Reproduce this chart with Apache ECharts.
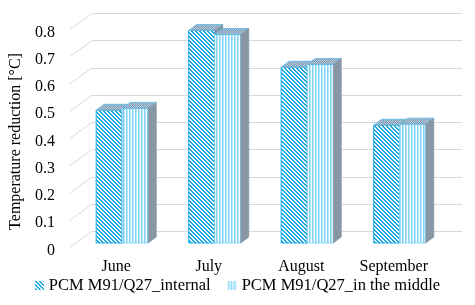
<!DOCTYPE html>
<html><head><meta charset="utf-8">
<script src="https://cdn.jsdelivr.net/npm/echarts@6/dist/echarts.min.js"></script>
<style>html,body{margin:0;padding:0;background:#fff}#c{width:475px;height:305px}</style>
</head><body><div id="c"></div>
<script>
const categories = ['June', 'July', 'August', 'September'];
const internalVals = [0.487, 0.78, 0.645, 0.432];
const middleVals = [0.494, 0.765, 0.655, 0.436];
const yTicks = [0, 0.1, 0.2, 0.3, 0.4, 0.5, 0.6, 0.7, 0.8];
const seriesNames = ['PCM M91/Q27_internal', 'PCM M91/Q27_in the middle'];

function makePattern(w, h, draw) {
  const c = document.createElement('canvas'); c.width = w; c.height = h;
  const ctx = c.getContext('2d'); draw(ctx, w, h);
  return { image: c, repeat: 'repeat' };
}
const diagPat = makePattern(4, 4, (ctx) => {
  ctx.fillStyle = '#fff'; ctx.fillRect(0, 0, 4, 4);
  ctx.fillStyle = '#14A9E6';
  for (let i = 0; i < 4; i++) { ctx.fillRect(i, i, 1, 1); ctx.fillRect((i + 1) % 4, i, 1, 1); }
});
const vertPat = makePattern(3, 1, (ctx) => {
  ctx.fillStyle = '#fff'; ctx.fillRect(0, 0, 3, 1);
  ctx.fillStyle = '#7FD3F7'; ctx.fillRect(0, 0, 1, 1);
  ctx.fillStyle = '#B5E6FB'; ctx.fillRect(1, 0, 1, 1);
});
const topPat = makePattern(2, 2, (ctx) => {
  ctx.fillStyle = '#7E9DB8'; ctx.fillRect(0, 0, 2, 2);
  ctx.fillStyle = '#B4C8D8'; ctx.fillRect(0, 0, 1, 1); ctx.fillRect(1, 1, 1, 1);
});

const DX = 8, DY = -6;
function barRender(side) {
  return function (params, api) {
    const cat = api.value(0), val = api.value(1);
    const b = api.coord([cat, 0]), t = api.coord([cat, val]);
    const band = api.size([1, 0])[0];
    const w = band * 0.282;
    const x0 = side === 0 ? b[0] - w : b[0];
    const x1 = x0 + w;
    const yb = b[1], yt = t[1];
    const front = side === 0 ? diagPat : vertPat;
    const stroke = side === 0 ? '#1AAEEA' : '#8CD6F7';
    return {
      type: 'group',
      children: [
        { type: 'rect', shape: { x: x0, y: yt, width: w, height: yb - yt },
          style: { fill: front, stroke: stroke, lineWidth: 1 } },
        { type: 'polygon', shape: { points: [[x0, yt], [x1, yt], [x1 + DX, yt + DY], [x0 + DX, yt + DY]] },
          style: { fill: topPat, stroke: '#5BB7E6', lineWidth: 0.8 } },
        { type: 'polygon', shape: { points: [[x1, yt], [x1 + DX, yt + DY], [x1 + DX, yb + DY], [x1, yb]] },
          style: { fill: '#8797A6', stroke: '#7F93A6', lineWidth: 0.6 } }
      ]
    };
  };
}

const chart = echarts.init(document.getElementById('c'), null, { renderer: 'canvas' });
const font = 'Liberation Serif';
chart.setOption({
  animation: false,
  textStyle: { fontFamily: font },
  grid: [
    { left: 70, right: 35, top: 32.5, bottom: 54.5 },   // front floor (labels)
    { left: 76, right: 29, top: 25, bottom: 62 },       // bar plane
    { left: 92, right: 13, top: 13.4, bottom: 73.6 }    // back wall
  ],
  xAxis: [
    { type: 'category', gridIndex: 0, data: categories, boundaryGap: true,
      axisLine: { show: false }, axisTick: { show: false },
      axisLabel: { color: '#000', fontSize: 16, fontFamily: font, margin: 8 } },
    { type: 'category', gridIndex: 1, data: categories, show: false },
    { type: 'category', gridIndex: 2, data: categories, show: false }
  ],
  yAxis: [
    { type: 'value', gridIndex: 0, min: 0, max: 0.8, interval: 0.1,
      axisLine: { show: false }, axisTick: { show: false }, splitLine: { show: false },
      axisLabel: { color: '#000', fontSize: 16, fontFamily: font, margin: 15,
        formatter: v => { const i = yTicks.findIndex(t => Math.abs(t - v) < 1e-6); return i >= 0 ? String(yTicks[i]) : ''; } },
      name: 'Temperature reduction [°C]', nameLocation: 'middle', nameGap: 41,
      nameTextStyle: { color: '#000', fontSize: 16, fontFamily: font } },
    { type: 'value', gridIndex: 1, min: 0, max: 0.8, interval: 0.1, show: false },
    { type: 'value', gridIndex: 2, min: 0, max: 0.8, interval: 0.1,
      axisLine: { show: false }, axisTick: { show: false }, axisLabel: { show: false },
      splitLine: { show: true, lineStyle: { color: '#D9D9D9', width: 1 } } }
  ],
  legend: {
    data: seriesNames, bottom: 6, left: 'center', itemWidth: 9, itemHeight: 9, itemGap: 17,
    textStyle: { color: '#000', fontSize: 16.5, fontFamily: font }, icon: 'rect'
  },
  series: [
    { type: 'custom', name: 'diag', xAxisIndex: 1, yAxisIndex: 1, z: 1, silent: true,
      data: yTicks.map(v => [0, v]),
      renderItem: (params, api) => {
        const y = api.coord([0, api.value(1)])[1];
        const x = params.coordSys.x;
        return { type: 'line', shape: { x1: x - 6, y1: y + 4.4, x2: x + 16, y2: y - 11.6 },
          style: { stroke: '#D9D9D9', lineWidth: 1 } };
      } },
    { type: 'custom', name: seriesNames[0], xAxisIndex: 1, yAxisIndex: 1, z: 3,
      itemStyle: { color: diagPat, borderColor: '#1AAEEA' },
      encode: { x: 0, y: 1 },
      data: internalVals.map((v, i) => [i, v]), renderItem: barRender(0) },
    { type: 'custom', name: seriesNames[1], xAxisIndex: 1, yAxisIndex: 1, z: 4,
      itemStyle: { color: vertPat, borderColor: '#8CD6F7' },
      encode: { x: 0, y: 1 },
      data: middleVals.map((v, i) => [i, v]), renderItem: barRender(1) }
  ]
});
</script></body></html>
